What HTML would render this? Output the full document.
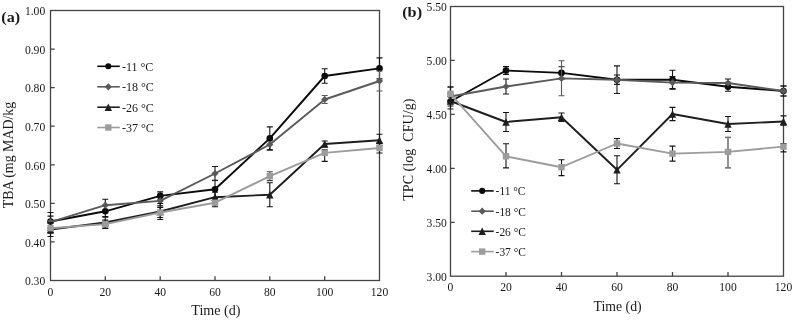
<!DOCTYPE html>
<html><head><meta charset="utf-8"><title>Figure</title>
<style>
html,body{margin:0;padding:0;background:#fff;}
body{width:793px;height:320px;overflow:hidden;font-family:"Liberation Serif",serif;}
svg{display:block;filter:grayscale(1);}
svg text{font-family:"Liberation Serif", serif;fill:#1a1a1a;}
</style></head><body>
<svg width="793" height="320" viewBox="0 0 793 320">
<rect width="793" height="320" fill="#fff"/>
<rect x="50.5" y="10.5" width="329.0" height="270.0" fill="none" stroke="#444" stroke-width="1.3"/>
<path d="M105.3 280.5v-4.2M160.2 280.5v-4.2M215.0 280.5v-4.2M269.8 280.5v-4.2M324.7 280.5v-4.2M50.5 49.1h4.2M50.5 87.6h4.2M50.5 126.2h4.2M50.5 164.8h4.2M50.5 203.4h4.2M50.5 241.9h4.2" stroke="#444" stroke-width="1.3" fill="none"/>
<text x="45.2" y="15.2" text-anchor="end" font-size="11.6">1.00</text>
<text x="45.2" y="53.8" text-anchor="end" font-size="11.6">0.90</text>
<text x="45.2" y="92.3" text-anchor="end" font-size="11.6">0.80</text>
<text x="45.2" y="130.9" text-anchor="end" font-size="11.6">0.70</text>
<text x="45.2" y="169.5" text-anchor="end" font-size="11.6">0.60</text>
<text x="45.2" y="208.1" text-anchor="end" font-size="11.6">0.50</text>
<text x="45.2" y="246.6" text-anchor="end" font-size="11.6">0.40</text>
<text x="45.2" y="285.2" text-anchor="end" font-size="11.6">0.30</text>
<text x="50.5" y="296.0" text-anchor="middle" font-size="11.6">0</text>
<text x="105.3" y="296.0" text-anchor="middle" font-size="11.6">20</text>
<text x="160.2" y="296.0" text-anchor="middle" font-size="11.6">40</text>
<text x="215.0" y="296.0" text-anchor="middle" font-size="11.6">60</text>
<text x="269.8" y="296.0" text-anchor="middle" font-size="11.6">80</text>
<text x="324.7" y="296.0" text-anchor="middle" font-size="11.6">100</text>
<text x="379.5" y="296.0" text-anchor="middle" font-size="11.6">120</text>
<path d="M50.5 212.5V230.5M47.5 212.5H53.5M47.5 230.5H53.5" stroke="#151515" stroke-width="1.1" fill="none"/>
<path d="M105.3 205.3V217.3M102.3 205.3H108.3M102.3 217.3H108.3" stroke="#151515" stroke-width="1.1" fill="none"/>
<path d="M160.2 191.9V199.9M157.2 191.9H163.2M157.2 199.9H163.2" stroke="#151515" stroke-width="1.1" fill="none"/>
<path d="M215.0 180.2V198.2M212.0 180.2H218.0M212.0 198.2H218.0" stroke="#151515" stroke-width="1.1" fill="none"/>
<path d="M269.8 126.9V149.9M266.8 126.9H272.8M266.8 149.9H272.8" stroke="#151515" stroke-width="1.1" fill="none"/>
<path d="M324.7 68.7V83.3M321.7 68.7H327.7M321.7 83.3H327.7" stroke="#151515" stroke-width="1.1" fill="none"/>
<path d="M379.5 57.9V78.9M376.5 57.9H382.5M376.5 78.9H382.5" stroke="#151515" stroke-width="1.1" fill="none"/>
<polyline points="50.5,221.5 105.3,211.3 160.2,195.9 215.0,189.2 269.8,138.4 324.7,76.0 379.5,68.4" fill="none" stroke="#0a0a0a" stroke-width="1.9" stroke-linejoin="round"/>
<circle cx="50.5" cy="221.5" r="3.30" fill="#0a0a0a"/>
<circle cx="105.3" cy="211.3" r="3.30" fill="#0a0a0a"/>
<circle cx="160.2" cy="195.9" r="3.30" fill="#0a0a0a"/>
<circle cx="215.0" cy="189.2" r="3.30" fill="#0a0a0a"/>
<circle cx="269.8" cy="138.4" r="3.30" fill="#0a0a0a"/>
<circle cx="324.7" cy="76.0" r="3.30" fill="#0a0a0a"/>
<circle cx="379.5" cy="68.4" r="3.30" fill="#0a0a0a"/>
<path d="M50.5 216.1V228.1M47.5 216.1H53.5M47.5 228.1H53.5" stroke="#151515" stroke-width="1.1" fill="none"/>
<path d="M105.3 199.2V211.2M102.3 199.2H108.3M102.3 211.2H108.3" stroke="#151515" stroke-width="1.1" fill="none"/>
<path d="M160.2 195.9V205.9M157.2 195.9H163.2M157.2 205.9H163.2" stroke="#151515" stroke-width="1.1" fill="none"/>
<path d="M215.0 166.5V180.5M212.0 166.5H218.0M212.0 180.5H218.0" stroke="#151515" stroke-width="1.1" fill="none"/>
<path d="M269.8 139.0V150.0M266.8 139.0H272.8M266.8 150.0H272.8" stroke="#151515" stroke-width="1.1" fill="none"/>
<path d="M324.7 95.5V103.5M321.7 95.5H327.7M321.7 103.5H327.7" stroke="#5a5a5a" stroke-width="1.1" fill="none"/>
<path d="M379.5 71.0V91.0M376.5 71.0H382.5M376.5 91.0H382.5" stroke="#5a5a5a" stroke-width="1.1" fill="none"/>
<polyline points="50.5,222.1 105.3,205.2 160.2,200.9 215.0,173.5 269.8,144.5 324.7,99.5 379.5,81.0" fill="none" stroke="#5a5a5a" stroke-width="1.9" stroke-linejoin="round"/>
<path d="M50.5 218.5 L54.1 222.1 L50.5 225.7 L46.9 222.1Z" fill="#5a5a5a"/>
<path d="M105.3 201.6 L108.9 205.2 L105.3 208.8 L101.7 205.2Z" fill="#5a5a5a"/>
<path d="M160.2 197.3 L163.8 200.9 L160.2 204.5 L156.6 200.9Z" fill="#5a5a5a"/>
<path d="M215.0 169.9 L218.6 173.5 L215.0 177.1 L211.4 173.5Z" fill="#5a5a5a"/>
<path d="M269.8 140.9 L273.4 144.5 L269.8 148.1 L266.2 144.5Z" fill="#5a5a5a"/>
<path d="M324.7 95.9 L328.3 99.5 L324.7 103.1 L321.1 99.5Z" fill="#5a5a5a"/>
<path d="M379.5 77.4 L383.1 81.0 L379.5 84.6 L375.9 81.0Z" fill="#5a5a5a"/>
<path d="M50.5 222.5V236.5M47.5 222.5H53.5M47.5 236.5H53.5" stroke="#151515" stroke-width="1.1" fill="none"/>
<path d="M105.3 216.5V228.5M102.3 216.5H108.3M102.3 228.5H108.3" stroke="#151515" stroke-width="1.1" fill="none"/>
<path d="M160.2 203.5V219.5M157.2 203.5H163.2M157.2 219.5H163.2" stroke="#151515" stroke-width="1.1" fill="none"/>
<path d="M215.0 192.2V202.2M212.0 192.2H218.0M212.0 202.2H218.0" stroke="#151515" stroke-width="1.1" fill="none"/>
<path d="M269.8 182.7V206.7M266.8 182.7H272.8M266.8 206.7H272.8" stroke="#151515" stroke-width="1.1" fill="none"/>
<path d="M324.7 141.0V147.0M321.7 141.0H327.7M321.7 147.0H327.7" stroke="#151515" stroke-width="1.1" fill="none"/>
<path d="M379.5 134.2V145.2M376.5 134.2H382.5M376.5 145.2H382.5" stroke="#151515" stroke-width="1.1" fill="none"/>
<polyline points="50.5,229.5 105.3,222.5 160.2,211.5 215.0,197.2 269.8,194.7 324.7,144.0 379.5,140.2" fill="none" stroke="#1e1e1e" stroke-width="1.9" stroke-linejoin="round"/>
<path d="M50.5 225.8 L54.2 233.2 L46.8 233.2Z" fill="#1e1e1e"/>
<path d="M105.3 218.8 L109.0 226.2 L101.6 226.2Z" fill="#1e1e1e"/>
<path d="M160.2 207.8 L163.9 215.2 L156.5 215.2Z" fill="#1e1e1e"/>
<path d="M215.0 193.5 L218.7 200.9 L211.3 200.9Z" fill="#1e1e1e"/>
<path d="M269.8 191.0 L273.5 198.4 L266.1 198.4Z" fill="#1e1e1e"/>
<path d="M324.7 140.3 L328.4 147.7 L321.0 147.7Z" fill="#1e1e1e"/>
<path d="M379.5 136.5 L383.2 143.9 L375.8 143.9Z" fill="#1e1e1e"/>
<path d="M50.5 223.2V233.2M47.5 223.2H53.5M47.5 233.2H53.5" stroke="#151515" stroke-width="1.1" fill="none"/>
<path d="M105.3 220.1V228.1M102.3 220.1H108.3M102.3 228.1H108.3" stroke="#151515" stroke-width="1.1" fill="none"/>
<path d="M160.2 207.5V217.5M157.2 207.5H163.2M157.2 217.5H163.2" stroke="#151515" stroke-width="1.1" fill="none"/>
<path d="M215.0 198.7V206.7M212.0 198.7H218.0M212.0 206.7H218.0" stroke="#151515" stroke-width="1.1" fill="none"/>
<path d="M269.8 171.8V180.6M266.8 171.8H272.8M266.8 180.6H272.8" stroke="#444" stroke-width="1.1" fill="none"/>
<path d="M324.7 149.9V161.4M321.7 149.9H327.7M321.7 161.4H327.7" stroke="#151515" stroke-width="1.1" fill="none"/>
<path d="M379.5 143.0V153.0M376.5 143.0H382.5M376.5 153.0H382.5" stroke="#151515" stroke-width="1.1" fill="none"/>
<polyline points="50.5,228.2 105.3,224.1 160.2,212.5 215.0,202.7 269.8,176.2 324.7,152.9 379.5,148.0" fill="none" stroke="#9c9c9c" stroke-width="1.9" stroke-linejoin="round"/>
<rect x="47.3" y="225.0" width="6.4" height="6.4" fill="#9c9c9c"/>
<rect x="102.1" y="220.9" width="6.4" height="6.4" fill="#9c9c9c"/>
<rect x="157.0" y="209.3" width="6.4" height="6.4" fill="#9c9c9c"/>
<rect x="211.8" y="199.5" width="6.4" height="6.4" fill="#9c9c9c"/>
<rect x="266.6" y="173.0" width="6.4" height="6.4" fill="#9c9c9c"/>
<rect x="321.5" y="149.7" width="6.4" height="6.4" fill="#9c9c9c"/>
<rect x="376.3" y="144.8" width="6.4" height="6.4" fill="#9c9c9c"/>
<path d="M97.3 66.3H119.8" stroke="#0a0a0a" stroke-width="1.6"/>
<circle cx="108.3" cy="66.3" r="3.04" fill="#0a0a0a"/>
<text x="121.9" y="70.7" font-size="12.0">-11 °C</text>
<path d="M97.3 86.8H119.8" stroke="#5a5a5a" stroke-width="1.6"/>
<path d="M108.3 83.2 L111.9 86.8 L108.3 90.4 L104.7 86.8Z" fill="#5a5a5a"/>
<text x="121.9" y="91.2" font-size="12.0">-18 °C</text>
<path d="M97.3 107.2H119.8" stroke="#1e1e1e" stroke-width="1.6"/>
<path d="M108.3 103.5 L112.0 110.9 L104.6 110.9Z" fill="#1e1e1e"/>
<text x="121.9" y="111.6" font-size="12.0">-26 °C</text>
<path d="M97.3 127.5H119.8" stroke="#9c9c9c" stroke-width="1.6"/>
<rect x="105.1" y="124.3" width="6.4" height="6.4" fill="#9c9c9c"/>
<text x="121.9" y="131.9" font-size="12.0">-37 °C</text>
<text x="215.9" y="315.4" text-anchor="middle" font-size="14.1">Time (d)</text>
<text transform="translate(12.6 155.0) rotate(-90)" text-anchor="middle" font-size="13.9">TBA (mg MAD/kg</text>
<text x="1.3" y="21.5" font-size="15.6" font-weight="bold" fill="#000" textLength="18.9" lengthAdjust="spacingAndGlyphs">(a)</text>
<rect x="450.5" y="6.5" width="333.0" height="269.7" fill="none" stroke="#444" stroke-width="1.3"/>
<path d="M506.0 276.2v-4.2M561.5 276.2v-4.2M617.0 276.2v-4.2M672.5 276.2v-4.2M728.0 276.2v-4.2M450.5 60.4h4.2M450.5 114.4h4.2M450.5 168.3h4.2M450.5 222.3h4.2" stroke="#444" stroke-width="1.3" fill="none"/>
<text x="446.9" y="11.2" text-anchor="end" font-size="11.6">5.50</text>
<text x="446.9" y="65.1" text-anchor="end" font-size="11.6">5.00</text>
<text x="446.9" y="119.1" text-anchor="end" font-size="11.6">4.50</text>
<text x="446.9" y="173.0" text-anchor="end" font-size="11.6">4.00</text>
<text x="446.9" y="227.0" text-anchor="end" font-size="11.6">3.50</text>
<text x="446.9" y="280.9" text-anchor="end" font-size="11.6">3.00</text>
<text x="450.5" y="291.0" text-anchor="middle" font-size="11.6">0</text>
<text x="506.0" y="291.0" text-anchor="middle" font-size="11.6">20</text>
<text x="561.5" y="291.0" text-anchor="middle" font-size="11.6">40</text>
<text x="617.0" y="291.0" text-anchor="middle" font-size="11.6">60</text>
<text x="672.5" y="291.0" text-anchor="middle" font-size="11.6">80</text>
<text x="728.0" y="291.0" text-anchor="middle" font-size="11.6">100</text>
<text x="783.5" y="291.0" text-anchor="middle" font-size="11.6">120</text>
<path d="M450.5 94.5V106.0M447.5 94.5H453.5M447.5 106.0H453.5" stroke="#151515" stroke-width="1.1" fill="none"/>
<path d="M506.0 66.6V74.4M503.0 66.6H509.0M503.0 74.4H509.0" stroke="#151515" stroke-width="1.1" fill="none"/>
<path d="M561.5 66.7V79.1M558.5 66.7H564.5M558.5 79.1H564.5" stroke="#151515" stroke-width="1.1" fill="none"/>
<path d="M617.0 65.9V93.5M614.0 65.9H620.0M614.0 93.5H620.0" stroke="#151515" stroke-width="1.1" fill="none"/>
<path d="M672.5 70.3V89.1M669.5 70.3H675.5M669.5 89.1H675.5" stroke="#151515" stroke-width="1.1" fill="none"/>
<path d="M728.0 82.2V91.2M725.0 82.2H731.0M725.0 91.2H731.0" stroke="#151515" stroke-width="1.1" fill="none"/>
<path d="M783.5 86.0V96.0M780.5 86.0H786.5M780.5 96.0H786.5" stroke="#151515" stroke-width="1.1" fill="none"/>
<polyline points="450.5,101.5 506.0,70.5 561.5,72.9 617.0,79.7 672.5,79.7 728.0,86.7 783.5,91.0" fill="none" stroke="#0a0a0a" stroke-width="1.9" stroke-linejoin="round"/>
<circle cx="450.5" cy="101.5" r="3.30" fill="#0a0a0a"/>
<circle cx="506.0" cy="70.5" r="3.30" fill="#0a0a0a"/>
<circle cx="561.5" cy="72.9" r="3.30" fill="#0a0a0a"/>
<circle cx="617.0" cy="79.7" r="3.30" fill="#0a0a0a"/>
<circle cx="672.5" cy="79.7" r="3.30" fill="#0a0a0a"/>
<circle cx="728.0" cy="86.7" r="3.30" fill="#0a0a0a"/>
<circle cx="783.5" cy="91.0" r="3.30" fill="#0a0a0a"/>
<path d="M450.5 87.5V102.5M447.5 87.5H453.5M447.5 102.5H453.5" stroke="#5a5a5a" stroke-width="1.1" fill="none"/>
<path d="M506.0 79.0V94.0M503.0 79.0H509.0M503.0 94.0H509.0" stroke="#151515" stroke-width="1.1" fill="none"/>
<path d="M561.5 60.8V95.8M558.5 60.8H564.5M558.5 95.8H564.5" stroke="#5a5a5a" stroke-width="1.1" fill="none"/>
<path d="M617.0 75.0V84.4M614.0 75.0H620.0M614.0 84.4H620.0" stroke="#151515" stroke-width="1.1" fill="none"/>
<path d="M672.5 76.6V88.6M669.5 76.6H675.5M669.5 88.6H675.5" stroke="#151515" stroke-width="1.1" fill="none"/>
<path d="M728.0 79.0V87.0M725.0 79.0H731.0M725.0 87.0H731.0" stroke="#151515" stroke-width="1.1" fill="none"/>
<path d="M783.5 86.0V96.0M780.5 86.0H786.5M780.5 96.0H786.5" stroke="#151515" stroke-width="1.1" fill="none"/>
<polyline points="450.5,96.5 506.0,86.5 561.5,78.4 617.0,79.7 672.5,82.6 728.0,83.0 783.5,91.0" fill="none" stroke="#5a5a5a" stroke-width="1.9" stroke-linejoin="round"/>
<path d="M450.5 92.9 L454.1 96.5 L450.5 100.1 L446.9 96.5Z" fill="#5a5a5a"/>
<path d="M506.0 82.9 L509.6 86.5 L506.0 90.1 L502.4 86.5Z" fill="#5a5a5a"/>
<path d="M561.5 74.8 L565.1 78.4 L561.5 82.0 L557.9 78.4Z" fill="#5a5a5a"/>
<path d="M617.0 76.1 L620.6 79.7 L617.0 83.3 L613.4 79.7Z" fill="#5a5a5a"/>
<path d="M672.5 79.0 L676.1 82.6 L672.5 86.2 L668.9 82.6Z" fill="#5a5a5a"/>
<path d="M728.0 79.4 L731.6 83.0 L728.0 86.6 L724.4 83.0Z" fill="#5a5a5a"/>
<path d="M783.5 87.4 L787.1 91.0 L783.5 94.6 L779.9 91.0Z" fill="#5a5a5a"/>
<path d="M450.5 93.0V109.0M447.5 93.0H453.5M447.5 109.0H453.5" stroke="#151515" stroke-width="1.1" fill="none"/>
<path d="M506.0 112.5V131.5M503.0 112.5H509.0M503.0 131.5H509.0" stroke="#151515" stroke-width="1.1" fill="none"/>
<path d="M561.5 113.0V121.4M558.5 113.0H564.5M558.5 121.4H564.5" stroke="#151515" stroke-width="1.1" fill="none"/>
<path d="M617.0 155.8V183.8M614.0 155.8H620.0M614.0 183.8H620.0" stroke="#151515" stroke-width="1.1" fill="none"/>
<path d="M672.5 107.4V120.6M669.5 107.4H675.5M669.5 120.6H675.5" stroke="#151515" stroke-width="1.1" fill="none"/>
<path d="M728.0 116.5V131.5M725.0 116.5H731.0M725.0 131.5H731.0" stroke="#151515" stroke-width="1.1" fill="none"/>
<path d="M783.5 115.9V125.1M780.5 115.9H786.5M780.5 125.1H786.5" stroke="#151515" stroke-width="1.1" fill="none"/>
<polyline points="450.5,101.0 506.0,122.0 561.5,117.2 617.0,169.8 672.5,114.0 728.0,124.0 783.5,121.5" fill="none" stroke="#1e1e1e" stroke-width="1.9" stroke-linejoin="round"/>
<path d="M450.5 97.3 L454.2 104.7 L446.8 104.7Z" fill="#1e1e1e"/>
<path d="M506.0 118.3 L509.7 125.7 L502.3 125.7Z" fill="#1e1e1e"/>
<path d="M561.5 113.5 L565.2 120.9 L557.8 120.9Z" fill="#1e1e1e"/>
<path d="M617.0 166.1 L620.7 173.5 L613.3 173.5Z" fill="#1e1e1e"/>
<path d="M672.5 110.3 L676.2 117.7 L668.8 117.7Z" fill="#1e1e1e"/>
<path d="M728.0 120.3 L731.7 127.7 L724.3 127.7Z" fill="#1e1e1e"/>
<path d="M783.5 117.8 L787.2 125.2 L779.8 125.2Z" fill="#1e1e1e"/>
<path d="M450.5 86.8V100.8M447.5 86.8H453.5M447.5 100.8H453.5" stroke="#151515" stroke-width="1.1" fill="none"/>
<path d="M506.0 143.7V167.9M503.0 143.7H509.0M503.0 167.9H509.0" stroke="#151515" stroke-width="1.1" fill="none"/>
<path d="M561.5 159.7V175.6M558.5 159.7H564.5M558.5 175.6H564.5" stroke="#151515" stroke-width="1.1" fill="none"/>
<path d="M617.0 138.5V148.5M614.0 138.5H620.0M614.0 148.5H620.0" stroke="#151515" stroke-width="1.1" fill="none"/>
<path d="M672.5 146.1V161.1M669.5 146.1H675.5M669.5 161.1H675.5" stroke="#151515" stroke-width="1.1" fill="none"/>
<path d="M728.0 137.4V167.9M725.0 137.4H731.0M725.0 167.9H731.0" stroke="#7c7c7c" stroke-width="1.7" fill="none"/>
<path d="M783.5 143.6V151.9M780.5 143.6H786.5M780.5 151.9H786.5" stroke="#151515" stroke-width="1.1" fill="none"/>
<polyline points="450.5,93.8 506.0,156.3 561.5,167.2 617.0,143.5 672.5,153.6 728.0,151.9 783.5,146.6" fill="none" stroke="#9c9c9c" stroke-width="1.9" stroke-linejoin="round"/>
<rect x="447.3" y="90.6" width="6.4" height="6.4" fill="#9c9c9c"/>
<rect x="502.8" y="153.1" width="6.4" height="6.4" fill="#9c9c9c"/>
<rect x="558.3" y="164.0" width="6.4" height="6.4" fill="#9c9c9c"/>
<rect x="613.8" y="140.3" width="6.4" height="6.4" fill="#9c9c9c"/>
<rect x="669.3" y="150.4" width="6.4" height="6.4" fill="#9c9c9c"/>
<rect x="724.8" y="148.7" width="6.4" height="6.4" fill="#9c9c9c"/>
<rect x="780.3" y="143.4" width="6.4" height="6.4" fill="#9c9c9c"/>
<path d="M471.2 190.9H493.7" stroke="#0a0a0a" stroke-width="1.6"/>
<circle cx="482.2" cy="190.9" r="3.04" fill="#0a0a0a"/>
<text x="495.6" y="195.3" font-size="11.45">-11 °C</text>
<path d="M471.2 211.2H493.7" stroke="#5a5a5a" stroke-width="1.6"/>
<path d="M482.2 207.6 L485.8 211.2 L482.2 214.8 L478.6 211.2Z" fill="#5a5a5a"/>
<text x="495.6" y="215.6" font-size="11.45">-18 °C</text>
<path d="M471.2 231.3H493.7" stroke="#1e1e1e" stroke-width="1.6"/>
<path d="M482.2 227.6 L485.9 235.0 L478.5 235.0Z" fill="#1e1e1e"/>
<text x="495.6" y="235.7" font-size="11.45">-26 °C</text>
<path d="M471.2 251.6H493.7" stroke="#9c9c9c" stroke-width="1.6"/>
<rect x="479.0" y="248.4" width="6.4" height="6.4" fill="#9c9c9c"/>
<text x="495.6" y="256.0" font-size="11.45">-37 °C</text>
<text x="617.6" y="310.8" text-anchor="middle" font-size="13.8">Time (d)</text>
<text transform="translate(413 149.7) rotate(-90)" text-anchor="middle" font-size="14.1">TPC (log  CFU/g)</text>
<text x="402.2" y="17.0" font-size="15.6" font-weight="bold" fill="#000" textLength="19.9" lengthAdjust="spacingAndGlyphs">(b)</text>
</svg>
</body></html>
